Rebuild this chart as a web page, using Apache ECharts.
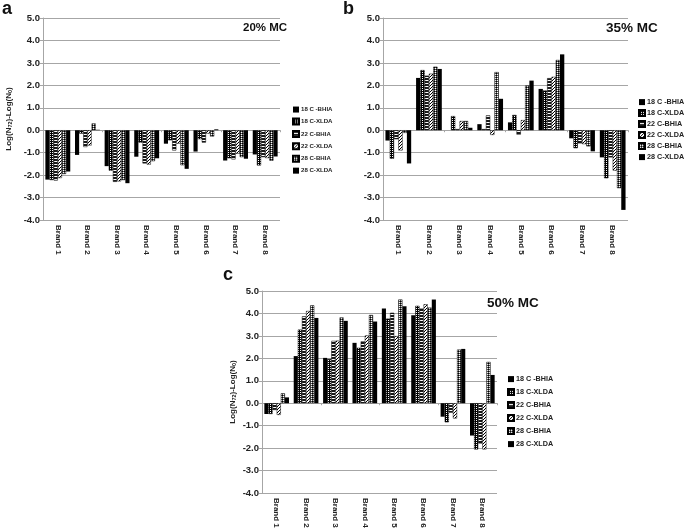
<!DOCTYPE html>
<html><head><meta charset="utf-8">
<script src="https://cdn.jsdelivr.net/npm/echarts@6/dist/echarts.min.js"></script>
<style>html,body{margin:0;padding:0;background:#fff}#c{width:685px;height:528px}</style>
</head><body><div id="c"></div>
<script>
// ---- data ----
const brands = ['Brand 1','Brand 2','Brand 3','Brand 4','Brand 5','Brand 6','Brand 7','Brand 8'];
const seriesNames = ['18 C -BHIA','18 C-XLDA','22 C-BHIA','22 C-XLDA','28 C-BHIA','28 C-XLDA'];
const yTicks = [-4,-3,-2,-1,0,1,2,3,4,5];
const panelTitles = ['20% MC','35% MC','50% MC'];
const panelLetters = ['a','b','c'];

// panel a: 20% MC
const a18B = [-2.20, -1.10, -1.60, -1.18, -0.60, -0.95, -1.35, -1.08];
const a18X = [-2.22, -0.15, -1.80, -0.55, -0.45, -0.40, -1.25, -1.57];
const a22B = [-2.24, -0.75, -2.30, -1.48, -0.90, -0.55, -1.30, -1.20];
const a22X = [-2.13, -0.68, -2.28, -1.53, -0.60, -0.15, -1.05, -1.24];
const a28B = [-1.95, 0.30, -2.22, -1.38, -1.56, -0.28, -1.20, -1.36];
const a28X = [-1.84, 0.02, -2.36, -1.25, -1.72, 0.04, -1.27, -1.17];
// panel b: 35% MC
const b18B = [-0.46, 2.33, 0.00, 0.27, 0.35, 1.84, -0.36, -1.21];
const b18X = [-1.27, 2.68, 0.63, 0.05, 0.68, 1.77, -0.80, -2.14];
const b22B = [-0.40, 2.43, 0.05, 0.66, -0.20, 2.32, -0.59, -1.21];
const b22X = [-0.90, 2.52, 0.41, -0.21, 0.45, 2.38, -0.62, -1.80];
const b28B = [-0.12, 2.83, 0.41, 2.59, 1.99, 3.13, -0.72, -2.58];
const b28X = [-1.48, 2.73, 0.11, 1.40, 2.21, 3.38, -0.94, -3.55];
// panel c: 50% MC
const c18B = [-0.48, 2.10, 2.02, 2.69, 4.22, 3.92, -0.60, -1.44];
const c18X = [-0.48, 3.28, 1.97, 2.47, 3.77, 4.34, -0.85, -2.06];
const c22B = [-0.30, 3.87, 2.78, 2.76, 4.03, 4.22, -0.42, -1.80];
const c22X = [-0.52, 4.11, 2.79, 3.02, 2.99, 4.41, -0.68, -2.06];
const c28B = [0.44, 4.36, 3.82, 3.93, 4.62, 4.26, 2.39, 1.84];
const c28X = [0.26, 3.80, 3.67, 3.64, 4.32, 4.62, 2.42, 1.26];

const panelData = [
  [a18B, a18X, a22B, a22X, a28B, a28X],
  [b18B, b18X, b22B, b22X, b28B, b28X],
  [c18B, c18X, c22B, c22X, c28B, c28X]
];

// ---- styling ----
function pat(w, h, fn) {
  const cv = document.createElement('canvas'); cv.width = w; cv.height = h;
  fn(cv.getContext('2d')); return { image: cv, repeat: 'repeat' };
}
const fills = [
  '#000',
  pat(2, 2, g => { g.fillStyle = '#000'; g.fillRect(0,0,2,2); g.fillStyle = '#fff'; g.fillRect(0,0,1,1); }),
  pat(1, 3, g => { g.fillStyle = '#1a1a1a'; g.fillRect(0,0,1,3); g.fillStyle = '#fff'; g.fillRect(0,2,1,1); }),
  pat(3, 3, g => { g.fillStyle = '#fff'; g.fillRect(0,0,3,3); g.fillStyle = '#000'; g.fillRect(2,0,1,1); g.fillRect(1,1,1,1); g.fillRect(0,2,1,1); }),
  pat(2, 2, g => { g.fillStyle = '#555'; g.fillRect(0,0,2,2); g.fillStyle = '#fff'; g.fillRect(1,0,1,1); g.fillStyle = '#000'; g.fillRect(0,1,1,1); }),
  '#000'
];
const FONT = 'Liberation Sans';
const grids = [
  { left: 43, top: 18, width: 237, height: 202 },
  { left: 383, top: 18, width: 245, height: 202 },
  { left: 262, top: 291, width: 235, height: 202 }
];
const legendPos = [
  { left: 287, top: 101, fs: 6.1, gap: 11.5 },
  { left: 633, top: 93, fs: 7.2, gap: 11 },
  { left: 502, top: 370, fs: 7.2, gap: 13 }
];
const titlePos = [
  { left: 243, top: 22, fs: 11.5 },
  { left: 606, top: 21, fs: 13.5 },
  { left: 487, top: 296, fs: 13.5 }
];
const letterPos = [ { left: 2, top: 0 }, { left: 343, top: 0 }, { left: 223, top: 266 } ];
const yNames = ['Log(N{s|72})-Log(N{s|0})', '', 'Log(N{s|72})-Log(N{s|0})'];
const yNameGap = [30, 0, 25];

const option = { animation: false, grid: [], xAxis: [], yAxis: [], series: [], legend: [], title: [] };
grids.forEach((gp, i) => {
  option.grid.push(Object.assign({ containLabel: false, outerBoundsMode: 'none' }, gp));
  option.yAxis.push({
    type: 'value', gridIndex: i, min: yTicks[0], max: yTicks[yTicks.length-1], interval: 1,
    axisLine: { show: true, lineStyle: { color: '#a6a6a6' } },
    axisTick: { show: true, length: 3, lineStyle: { color: '#a6a6a6' } },
    splitLine: { lineStyle: { color: '#a6a6a6', width: 1 } },
    axisLabel: { formatter: v => v.toFixed(1), fontFamily: FONT, fontWeight: 'bold', fontSize: 9.5, color: '#222', margin: 3 },
    name: yNames[i], nameLocation: 'middle', nameGap: yNameGap[i], nameRotate: 90,
    nameTextStyle: { fontFamily: FONT, fontWeight: 'bold', fontSize: 8, color: '#222',
      rich: { s: { fontFamily: FONT, fontWeight: 'bold', fontSize: 5.5, color: '#222', verticalAlign: 'bottom', lineHeight: 9 } } }
  });
  option.xAxis.push({
    type: 'category', gridIndex: i, data: brands, position: 'bottom',
    axisLine: { show: false, onZero: false }, axisTick: { show: false },
    axisLabel: { rotate: -90, fontFamily: FONT, fontWeight: 'bold', fontSize: 8, color: '#222', margin: 5 }
  });
  option.xAxis.push({
    type: 'category', gridIndex: i, data: brands, position: 'bottom',
    axisLine: { show: true, onZero: true, lineStyle: { color: '#a6a6a6' } },
    axisTick: { show: true, length: 2, lineStyle: { color: '#a6a6a6' } },
    axisLabel: { show: false }
  });
  seriesNames.forEach((nm, k) => {
    option.series.push({
      type: 'bar', name: nm, xAxisIndex: i * 2, yAxisIndex: i,
      data: panelData[i][k], barGap: '0%', barCategoryGap: '16%',
      itemStyle: { color: fills[k], borderColor: '#000', borderWidth: (k === 0 || k === 5) ? 0 : 0.5 }
    });
  });
  const lp = legendPos[i];
  option.legend.push({
    data: seriesNames, orient: 'vertical', left: lp.left, top: lp.top,
    itemWidth: 6, itemHeight: 6, itemGap: lp.gap - (lp.fs + 1), icon: 'rect',
    textStyle: { fontFamily: FONT, fontWeight: 'bold', fontSize: lp.fs, lineHeight: lp.fs + 1, color: '#222', padding: [0,0,0,-3] },
    selectedMode: false
  });
  option.title.push({ text: panelTitles[i], left: titlePos[i].left, top: titlePos[i].top, padding: 0,
    textStyle: { fontFamily: FONT, fontWeight: 'bold', fontSize: titlePos[i].fs, color: '#111' } });
  option.title.push({ text: panelLetters[i], left: letterPos[i].left, top: letterPos[i].top, padding: 0,
    textStyle: { fontFamily: FONT, fontWeight: 'bold', fontSize: 18, color: '#111' } });
});

const chart = echarts.init(document.getElementById('c'), null, { renderer: 'canvas' });
chart.setOption(option);
</script>
</body></html>
